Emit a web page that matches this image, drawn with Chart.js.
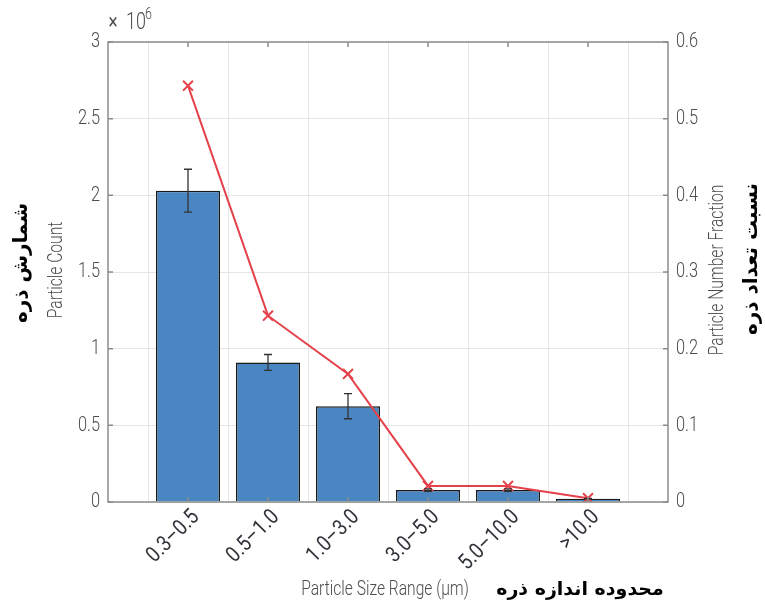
<!DOCTYPE html>
<html>
<head>
<meta charset="utf-8">
<script src="https://cdn.jsdelivr.net/npm/chart.js@4"></script>
<style>
  html, body { margin: 0; padding: 0; background: #fff; }
  #wrap { width: 765px; height: 604px; }
</style>
</head>
<body>
<div id="wrap"><canvas id="sizeChart"></canvas></div>
<script>
// Data
const sizeRanges = ['0.3–0.5', '0.5–1.0', '1.0–3.0', '3.0–5.0', '5.0–10.0', '>10.0'];
const particleCount = [2030000, 910000, 625000, 78000, 78000, 22000];
const countError = [140000, 52000, 82000, 8000, 8000, 2000];
const numberFraction = [0.543, 0.243, 0.167, 0.021, 0.021, 0.005];
const countTicks = [0, 0.5, 1, 1.5, 2, 2.5, 3];
const fractionTicks = [0, 0.1, 0.2, 0.3, 0.4, 0.5, 0.6];

const tickGrey = '#4d4d4d';
const faFont = 'bold 20px "DejaVu Sans", sans-serif';
const SQUEEZE = 0.78; // fake a condensed face

// draw text, optionally rotated and horizontally squeezed
function label(ctx, txt, x, y, o) {
    ctx.save();
    ctx.translate(x, y);
    if (o.rot) ctx.rotate(o.rot);
    if (o.squeeze) ctx.scale(o.squeeze, 1);
    ctx.font = o.font;
    ctx.fillStyle = o.color || tickGrey;
    ctx.textAlign = o.align || 'center';
    ctx.textBaseline = o.base || 'middle';
    ctx.fillText(txt, 0, 0);
    ctx.restore();
}

const extras = {
    id: 'extras',
    afterDatasetsDraw(chart) {
        const ctx = chart.ctx;
        const x = chart.scales.x, y = chart.scales.y;
        ctx.save();
        ctx.strokeStyle = '#333';
        ctx.lineWidth = 1.3;
        particleCount.forEach((v, i) => {
            const px = x.getPixelForValue(i + 1);
            const top = y.getPixelForValue(v + countError[i]);
            const bot = y.getPixelForValue(v - countError[i]);
            ctx.beginPath();
            ctx.moveTo(px, top); ctx.lineTo(px, bot);
            ctx.moveTo(px - 4, top); ctx.lineTo(px + 4, top);
            ctx.moveTo(px - 4, bot); ctx.lineTo(px + 4, bot);
            ctx.stroke();
        });
        ctx.restore();
    },
    afterDraw(chart) {
        const ctx = chart.ctx;
        const a = chart.chartArea;
        const x = chart.scales.x, y = chart.scales.y, y1 = chart.scales.y1;
        const tickFont = '300 21px Roboto, sans-serif';
        ctx.save();

        // axes box and inward tick marks
        ctx.strokeStyle = '#8c8c8c';
        ctx.lineWidth = 1.5;
        ctx.strokeRect(a.left, a.top, a.right - a.left, a.bottom - a.top);
        ctx.beginPath();
        countTicks.forEach(v => {
            const py = y.getPixelForValue(v * 1e6);
            ctx.moveTo(a.left, py); ctx.lineTo(a.left + 5, py);
        });
        fractionTicks.forEach(v => {
            const py = y1.getPixelForValue(v);
            ctx.moveTo(a.right, py); ctx.lineTo(a.right - 5, py);
        });
        sizeRanges.forEach((s, i) => {
            const px = x.getPixelForValue(i + 1);
            ctx.moveTo(px, a.bottom); ctx.lineTo(px, a.bottom - 5);
            ctx.moveTo(px, a.top); ctx.lineTo(px, a.top + 5);
        });
        ctx.stroke();

        // tick labels
        countTicks.forEach(v => {
            label(ctx, String(v), a.left - 8, y.getPixelForValue(v * 1e6),
                { font: tickFont, align: 'right', squeeze: SQUEEZE });
        });
        fractionTicks.forEach(v => {
            label(ctx, String(v), a.right + 8, y1.getPixelForValue(v),
                { font: tickFont, align: 'left', squeeze: SQUEEZE });
        });
        sizeRanges.forEach((s, i) => {
            label(ctx, s, x.getPixelForValue(i + 1) + 8, a.bottom + 12,
                { font: '22px Roboto, sans-serif', align: 'right', rot: -Math.PI / 4, squeeze: 0.85, color: '#2f3338' });
        });

        // exponent label
        label(ctx, '×', a.left + 5, 23, { font: '22px Roboto, sans-serif', squeeze: SQUEEZE });
        label(ctx, '10', a.left + 18, 23, { font: '300 23px Roboto, sans-serif', align: 'left', squeeze: SQUEEZE });
        label(ctx, '6', a.left + 37, 15, { font: '300 16px Roboto, sans-serif', align: 'left', squeeze: SQUEEZE });

        // axis titles (English + Persian)
        label(ctx, 'Particle Size Range (μm)', 385, 590, { font: '300 20px Roboto, sans-serif', squeeze: SQUEEZE });
        label(ctx, 'محدوده اندازه ذره', 580, 590, { font: 'bold 19px "DejaVu Sans", sans-serif', color: '#000' });
        label(ctx, 'Particle Count', 57, 270, { font: '300 20px Roboto, sans-serif', rot: -Math.PI / 2, squeeze: SQUEEZE });
        label(ctx, 'شمارش ذره', 22, 263, { font: faFont, rot: -Math.PI / 2, color: '#000' });
        label(ctx, 'Particle Number Fraction', 718, 270, { font: '300 20px Roboto, sans-serif', rot: -Math.PI / 2, squeeze: SQUEEZE });
        label(ctx, 'نسبت تعداد ذره', 752, 259, { font: faFont, rot: -Math.PI / 2, color: '#000' });
        ctx.restore();
    }
};

new Chart(document.getElementById('sizeChart'), {
    type: 'bar',
    data: {
        datasets: [{
            type: 'line',
            label: 'Particle Number Fraction',
            data: numberFraction.map((v, i) => ({ x: i + 1, y: v })),
            yAxisID: 'y1',
            borderColor: '#e4414b',
            borderWidth: 2,
            pointStyle: 'crossRot',
            pointRadius: 7,
            pointBorderWidth: 2,
            pointBorderColor: '#e4414b',
            order: 0
        }, {
            label: 'Particle Count',
            data: particleCount.map((v, i) => ({ x: i + 1, y: v })),
            yAxisID: 'y',
            backgroundColor: '#4a86c1',
            borderColor: '#1a1a1a',
            borderWidth: 1.5,
            barPercentage: 0.8,
            categoryPercentage: 1,
            order: 1
        }]
    },
    options: {
        responsive: true,
        maintainAspectRatio: false,
        animation: false,
        layout: { padding: { top: 42, left: 0, right: 0, bottom: 0 } },
        plugins: {
            legend: { display: false },
            tooltip: { enabled: false }
        },
        scales: {
            x: {
                type: 'linear',
                offset: false,
                min: 0,
                max: 7,
                afterFit: s => { s.height = 102; },
                afterBuildTicks: s => { s.ticks = [0, 1, 2, 3, 4, 5, 6, 7].map(v => ({ value: v })); },
                grid: { color: '#e6e6e6', drawTicks: false },
                border: { display: false },
                ticks: { display: false }
            },
            y: {
                position: 'left',
                min: 0,
                max: 3000000,
                afterFit: s => { s.width = 108; },
                afterBuildTicks: s => { s.ticks = countTicks.map(v => ({ value: v * 1e6 })); },
                grid: { color: '#e6e6e6', drawTicks: false },
                border: { display: false },
                ticks: { display: false }
            },
            y1: {
                position: 'right',
                min: 0,
                max: 0.6,
                afterFit: s => { s.width = 97; },
                grid: { display: false, drawTicks: false },
                border: { display: false },
                ticks: { display: false }
            }
        }
    },
    plugins: [extras]
});
</script>
</body>
</html>
